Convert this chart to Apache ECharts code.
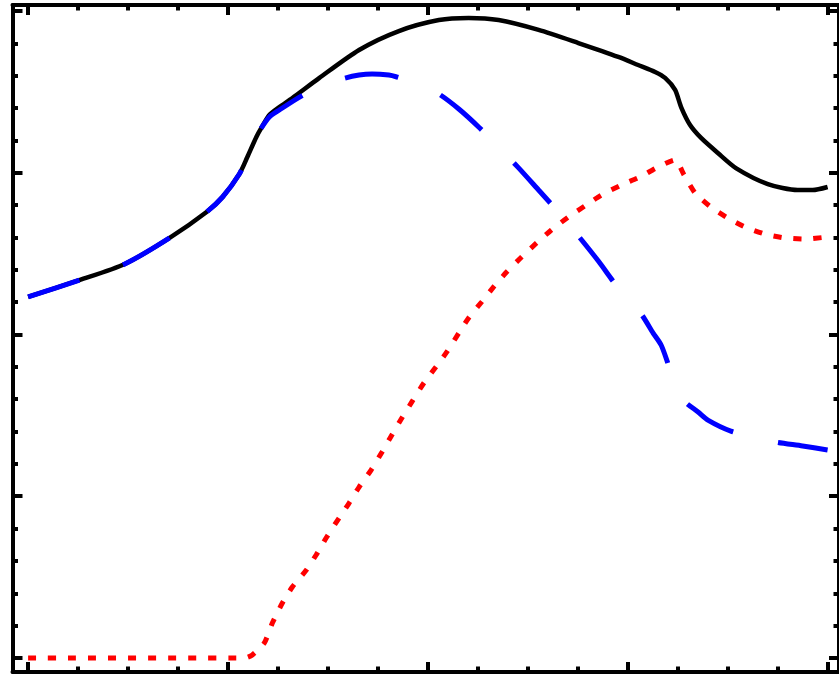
<!DOCTYPE html>
<html>
<head>
<meta charset="utf-8">
<script src="https://cdn.jsdelivr.net/npm/echarts@6/dist/echarts.min.js"></script>
<style>
html, body { margin: 0; padding: 0; background: #fff; }
#main { width: 839px; height: 674px; }
</style>
</head>
<body>
<div id="main"></div>
<script>
// 实线（黑）
var blackX = [0, 0.259, 0.484, 0.708, 0.893, 0.973, 1.057, 1.097, 1.142, 1.167, 1.207, 1.257, 1.322, 1.456, 1.656, 1.855, 2.055, 2.204, 2.354, 2.554, 2.753, 2.953, 3.052, 3.137, 3.187, 3.237, 3.267, 3.312, 3.367, 3.451, 3.541, 3.701, 3.850, 3.925, 4.0];
var blackY = [2.232, 2.337, 2.436, 2.597, 2.757, 2.850, 2.992, 3.097, 3.221, 3.277, 3.357, 3.406, 3.462, 3.585, 3.759, 3.876, 3.944, 3.957, 3.944, 3.883, 3.802, 3.716, 3.666, 3.623, 3.586, 3.512, 3.406, 3.295, 3.215, 3.122, 3.029, 2.930, 2.893, 2.893, 2.912];
// 虚线（蓝）
var blueX = [0, 0.259, 0.484, 0.708, 0.893, 0.973, 1.057, 1.097, 1.142, 1.167, 1.207, 1.257, 1.367, 1.456, 1.571, 1.656, 1.721, 1.805, 1.845, 1.955, 2.055, 2.155, 2.254, 2.354, 2.454, 2.554, 2.653, 2.753, 2.853, 2.953, 3.067, 3.127, 3.167, 3.197, 3.227, 3.262, 3.292, 3.352, 3.401, 3.516, 3.651, 3.741, 3.875, 4.0];
var blueY = [2.232, 2.337, 2.436, 2.597, 2.757, 2.850, 2.992, 3.097, 3.221, 3.277, 3.345, 3.388, 3.474, 3.524, 3.580, 3.604, 3.611, 3.604, 3.592, 3.549, 3.487, 3.394, 3.283, 3.159, 3.030, 2.893, 2.757, 2.609, 2.454, 2.287, 2.127, 2.009, 1.935, 1.836, 1.719, 1.626, 1.577, 1.521, 1.471, 1.403, 1.360, 1.335, 1.311, 1.286];
// 点线（红）
var redX = [0, 1.082, 1.122, 1.182, 1.222, 1.272, 1.322, 1.392, 1.441, 1.491, 1.556, 1.606, 1.656, 1.716, 1.771, 1.820, 1.870, 1.920, 1.980, 2.040, 2.095, 2.155, 2.204, 2.269, 2.329, 2.394, 2.469, 2.544, 2.618, 2.703, 2.793, 2.868, 2.968, 3.062, 3.142, 3.237, 3.282, 3.337, 3.416, 3.501, 3.586, 3.686, 3.786, 3.885, 4.0];
var redY = [0, 0, 0.019, 0.093, 0.216, 0.340, 0.439, 0.544, 0.637, 0.742, 0.866, 0.958, 1.057, 1.162, 1.274, 1.379, 1.484, 1.583, 1.700, 1.799, 1.892, 2.009, 2.102, 2.201, 2.294, 2.386, 2.479, 2.566, 2.646, 2.726, 2.801, 2.862, 2.924, 2.974, 3.029, 3.079, 2.986, 2.875, 2.788, 2.720, 2.665, 2.621, 2.597, 2.590, 2.603];

// 刻度
var xMajor = [0, 1, 2, 3, 4];
var xMinor = [0.25, 0.5, 0.75, 1.25, 1.5, 1.75, 2.25, 2.5, 2.75, 3.25, 3.5, 3.75];
var yMajor = [0, 1, 2, 3, 4];
var yMinor = [0.2, 0.4, 0.6, 0.8, 1.2, 1.4, 1.6, 1.8, 2.2, 2.4, 2.6, 2.8, 3.2, 3.4, 3.6, 3.8];

var xMin = -0.078, xMax = 4.057;
var yMin = -0.0866, yMax = 4.037;

function pairs(xs, ys) {
    return xs.map(function (x, i) { return [x, ys[i]]; });
}

// 生成一条坐标轴（主刻度或次刻度）
function makeAxis(pos, min, max, ticks, len, showLine) {
    return {
        type: 'value',
        position: pos,
        min: min,
        max: max,
        axisLine: { show: showLine, onZero: false, lineStyle: { color: '#000', width: 4 } },
        axisTick: { show: true, inside: true, length: len, customValues: ticks,
            lineStyle: { color: '#000', width: 4 } },
        axisLabel: { show: false },
        splitLine: { show: false }
    };
}

var myChart = echarts.init(document.getElementById('main'));
var option = {
    animation: false,
    backgroundColor: '#fff',
    grid: { left: 12.5, top: 5, right: -2, bottom: 2, containLabel: false },
    xAxis: [
        makeAxis('bottom', xMin, xMax, xMajor, 10, true),
        makeAxis('bottom', xMin, xMax, xMinor, 5.5, false),
        makeAxis('top', xMin, xMax, xMajor, 10, true),
        makeAxis('top', xMin, xMax, xMinor, 5.5, false)
    ],
    yAxis: [
        makeAxis('left', yMin, yMax, yMajor, 10, true),
        makeAxis('left', yMin, yMax, yMinor, 5.5, false),
        makeAxis('right', yMin, yMax, yMajor, 10, true),
        makeAxis('right', yMin, yMax, yMinor, 5.5, false)
    ],
    series: [
        {
            name: 'black', type: 'line', showSymbol: false, smooth: 0.25,
            data: pairs(blackX, blackY),
            lineStyle: { color: '#000', width: 4.5, cap: 'butt' }
        },
        {
            name: 'blue', type: 'line', showSymbol: false, smooth: 0.25,
            data: pairs(blueX, blueY),
            lineStyle: { color: '#0000ff', width: 5, type: [54, 46], cap: 'butt' }
        },
        {
            name: 'red', type: 'line', showSymbol: false, smooth: 0.2,
            data: pairs(redX, redY),
            lineStyle: { color: '#ff0000', width: 5, type: [8, 12], cap: 'butt' }
        }
    ]
};
myChart.setOption(option);
</script>
</body>
</html>
